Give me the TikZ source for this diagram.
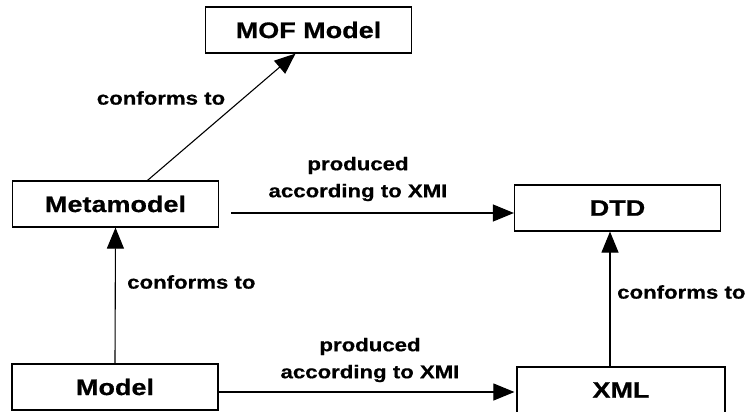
\documentclass[tikz,border=0pt]{standalone}
\usepackage{fontspec}
\newfontfamily\diafont[FakeStretch=1.2,FakeBold=0.6]{Liberation Sans}
\usepackage{tikz}
\usetikzlibrary{arrows.meta}

\begin{document}
\begin{tikzpicture}[x=1pt,y=-1pt,
    box/.style={draw,line width=1.2pt,inner sep=0pt,minimum width=206pt,minimum height=46pt,
      font=\diafont\bfseries\fontsize{22.5}{26}\selectfont},
    conn/.style={line width=1.1pt,-{Triangle[length=21pt,width=17pt]}},
    lab/.style={align=center,inner sep=0pt,font=\diafont\bfseries\fontsize{18.5}{27}\selectfont}]
    \useasboundingbox (0,0) rectangle (755,412);

    % boxes
    \node[box] (mof)   at (308.5,30)  {MOF Model};
    \node[box] (meta)  at (115.5,204) {Metamodel};
    \node[box] (dtd)   at (617.5,208) {DTD};
    \node[box] (model) at (115,387)   {Model};
    \node[box,minimum width=208pt] (xml) at (621,390) {XML};

    % conforms to
    \draw[conn] ([xshift=32pt]meta.north) -- ([xshift=-13pt]mof.south);
    \draw[conn] (model.north) -- (meta.south);
    \draw[conn] ([xshift=-11pt]xml.north) -- ([xshift=-7.5pt]dtd.south);
    \node[lab] (c1) at (161,98) {conforms to};
    \node[lab,anchor=west] (c2) at (127,282) {conforms to};
    \node[lab,anchor=west] (c3) at (617,292) {conforms to};

    % produced according to XMI
    \draw[conn] ([shift={(12,9)}]meta.east) -- ([shift={(0,5)}]dtd.west);
    \draw[conn] ([shift={(0,5)}]model.east) -- ([shift={(-2,2)}]xml.west);
    \node[lab] (p1) at (358,179) {produced\\according to XMI};
    \node[lab] (p2) at (370,360) {produced\\according to XMI};
\end{tikzpicture}
\end{document}
